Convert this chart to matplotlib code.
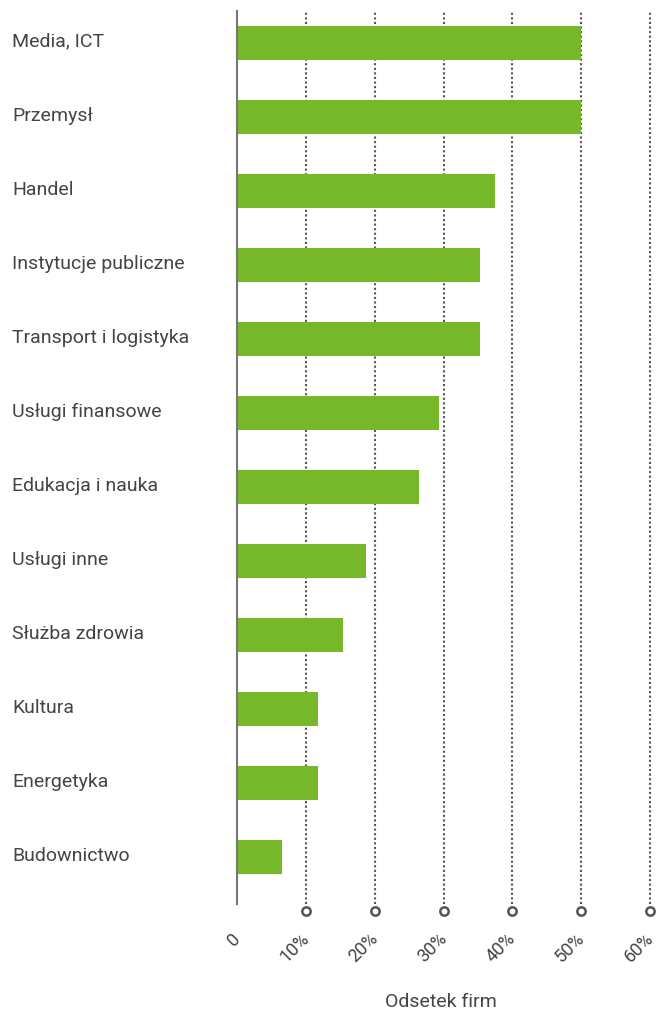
import matplotlib.pyplot as plt
import matplotlib.transforms as mtransforms

plt.rcParams['font.family'] = ['Roboto', 'DejaVu Sans']

categories = ["Media, ICT", "Przemysł", "Handel", "Instytucje publiczne",
              "Transport i logistyka", "Usługi finansowe", "Edukacja i nauka",
              "Usługi inne", "Służba zdrowia", "Kultura", "Energetyka",
              "Budownictwo"]
values = [50.0, 50.0, 37.5, 35.3, 35.3, 29.4, 26.5, 18.7, 15.4, 11.8, 11.8, 6.6]
ticks = [0, 10, 20, 30, 40, 50, 60]
tick_labels = ["0", "10%", "20%", "30%", "40%", "50%", "60%"]

green = "#76b82a"
grey = "#555555"
text_col = "#444444"

W, H = 657, 1012
fig = plt.figure(figsize=(W / 100, H / 100), dpi=100)
left, right, top, bottom = 237, 650, 12, 905
ax = fig.add_axes([left / W, 1 - bottom / H, (right - left) / W, (bottom - top) / H])

ypos = list(range(len(categories)))
ax.barh(ypos, values, height=0.46, color=green, zorder=3)
ax.set_xlim(0, 60)
ax.set_ylim(11 + 47 / 74, -32 / 74)

# dotted gridlines with open circles at the bottom
trans = mtransforms.blended_transform_factory(ax.transData, ax.transAxes)
for t in ticks[1:]:
    ax.plot([t, t], [0, 1], transform=trans, color=grey, lw=1.5,
            linestyle=(0, (1, 1.2)), zorder=1, clip_on=False)
    ax.plot([t], [-0.0078], transform=trans, marker="o", ms=6, mfc="white",
            mec=grey, mew=1.8, clip_on=False, zorder=4)

for s in ["top", "right", "bottom"]:
    ax.spines[s].set_visible(False)
ax.spines["left"].set_color("#777777")
ax.spines["left"].set_linewidth(1.5)
ax.spines["left"].set_zorder(5)

ax.set_yticks([])
ax.set_xticks([])

# category labels, left aligned at figure edge
lab_trans = mtransforms.blended_transform_factory(fig.transFigure, ax.transData)
for y, c in zip(ypos, categories):
    ax.text(12 / W, y - 0.03, c, transform=lab_trans,
            ha="left", va="center", fontsize=14, color=text_col)

# rotated tick labels
off = mtransforms.ScaledTranslation(0.5 / 100, -31 / 100, fig.dpi_scale_trans)
for t, lab in zip(ticks, tick_labels):
    ax.text(t, 0, lab, transform=trans + off, rotation=45, rotation_mode="anchor",
            ha="right", va="center", fontsize=13, color=text_col)

fig.text(441 / W, 1 - 1002 / H, "Odsetek firm", ha="center", va="center",
         fontsize=14, color=text_col)

fig.savefig("out.png", dpi=100)
